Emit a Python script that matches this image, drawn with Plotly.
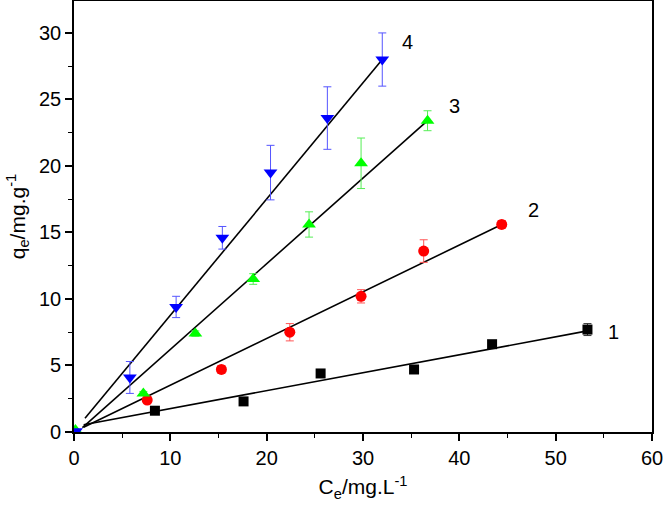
import plotly.graph_objects as go

# Series data (Ce, qe, error)
x1 = [8.4, 17.6, 25.6, 35.3, 43.4, 53.3]
y1 = [1.6, 2.3, 4.4, 4.7, 6.6, 7.7]
e1 = [0.2, 0.2, 0.2, 0.2, 0.2, 0.45]

x2 = [7.6, 15.3, 22.4, 29.8, 36.3, 44.4]
y2 = [2.4, 4.7, 7.5, 10.2, 13.6, 15.6]
e2 = [0.2, 0.3, 0.65, 0.5, 0.85, 0.3]

x3 = [0.15, 7.2, 12.6, 18.6, 24.4, 29.8, 36.7]
y3 = [0.15, 2.9, 7.4, 11.5, 15.6, 20.2, 23.4]
e3 = [0.0, 0.15, 0.2, 0.4, 0.95, 1.9, 0.75]

x4 = [0.2, 5.8, 10.6, 15.4, 20.4, 26.3, 32.0]
y4 = [0.05, 4.1, 9.4, 14.6, 19.5, 23.6, 28.0]
e4 = [0.0, 1.2, 0.8, 0.85, 2.05, 2.35, 2.0]

# Linear fit line endpoints
fit1_x = [1.0, 53.3]
fit1_y = [0.55, 7.6]
fit2_x = [1.0, 44.4]
fit2_y = [0.35, 15.6]
fit3_x = [0.87, 36.7]
fit3_y = [0.33, 23.4]
fit4_x = [1.14, 32.0]
fit4_y = [1.03, 28.0]

# Line labels
label_text = ["1", "2", "3", "4"]
label_x = [56.0, 47.7, 39.5, 34.6]
label_y = [7.55, 16.7, 24.5, 29.3]

FONT = "Liberation Sans"

fig = go.Figure()

series = [
    (x1, y1, e1, "#000000", "#333333", "square", 10),
    (x2, y2, e2, "#FF0000", "#FF5555", "circle", 11),
    (x3, y3, e3, "#00FF00", "#55EE55", "triangle-up", 12),
    (x4, y4, e4, "#0000FF", "#5555FF", "triangle-down", 12),
]
fits = [(fit1_x, fit1_y), (fit2_x, fit2_y), (fit3_x, fit3_y), (fit4_x, fit4_y)]

for (fx, fy) in fits:
    fig.add_trace(go.Scatter(x=fx, y=fy, mode="lines",
                             line=dict(color="black", width=1.6),
                             showlegend=False, hoverinfo="skip"))

for (xs, ys, es, c, ec, sym, sz) in series:
    fig.add_trace(go.Scatter(
        x=xs, y=ys, mode="markers",
        marker=dict(symbol=sym, size=sz, color=c, line=dict(width=0)),
        error_y=dict(type="data", array=es, visible=True, color=ec,
                     thickness=1, width=4),
        showlegend=False, cliponaxis=True))

for t, lx, ly in zip(label_text, label_x, label_y):
    fig.add_annotation(x=lx, y=ly, text=t, showarrow=False,
                       font=dict(size=20, color="black", family=FONT))

axis_common = dict(
    showline=True, linecolor="black", linewidth=1.6, mirror=True,
    ticks="outside", ticklen=7, tickwidth=1.6, tickcolor="black",
    showgrid=False, zeroline=False, automargin=False,
    tickfont=dict(size=20, color="black", family=FONT),
    minor=dict(ticks="outside", ticklen=4, tickwidth=1.4, tickcolor="black", showgrid=False),
)

fig.update_layout(
    width=664, height=511,
    margin=dict(l=74, r=12, t=1, b=79),
    plot_bgcolor="white", paper_bgcolor="white",
    font=dict(family=FONT, color="black"),
    xaxis=dict(range=[0, 60], dtick=10, minor_dtick=5,
               title=dict(text="C<sub>e</sub>/mg.L<sup>-1</sup>",
                          font=dict(size=21, family=FONT), standoff=12),
               **axis_common),
    yaxis=dict(range=[0, 32.4], dtick=5, minor_dtick=2.5,
               title=dict(text="q<sub>e</sub>/mg.g<sup>-1</sup>",
                          font=dict(size=21, family=FONT), standoff=8),
               **axis_common),
)

fig.write_html("out.html", config={"displayModeBar": False},
               post_script="document.body.style.margin='0';document.body.style.overflow='hidden';")
